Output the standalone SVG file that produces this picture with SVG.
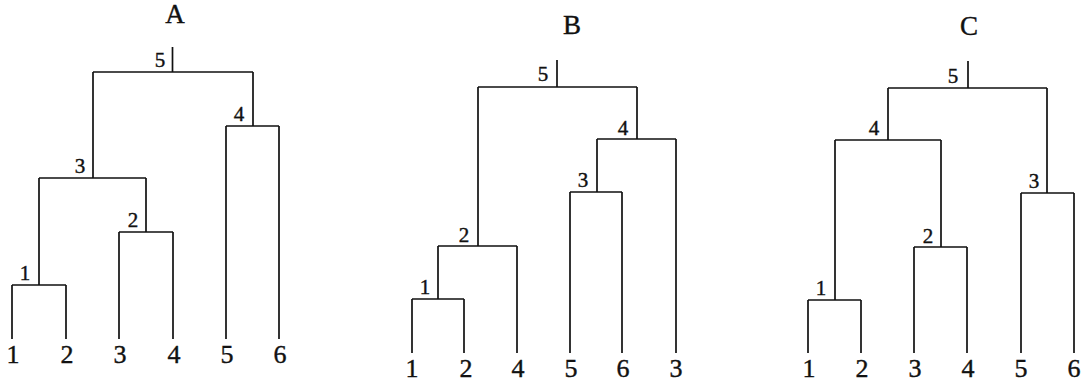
<svg xmlns="http://www.w3.org/2000/svg" width="1089" height="386" viewBox="0 0 1089 386">
<style>
.ln{fill:none;stroke:#111;stroke-width:1.7;stroke-linejoin:miter;stroke-linecap:butt}
text{font-family:"Liberation Serif","Times New Roman",serif;fill:#111;stroke:#111;stroke-width:0.4;text-anchor:middle}
.t{font-size:27px}
.m{font-size:21px}
.l{font-size:26px}
</style>
<rect width="1089" height="386" fill="#fff"/>

<!-- Panel A -->
<g id="panelA">
<g id="A-connectors">
<path class="ln" d="M172.5,47V72M93,72H253M93,72V178M253,72V126"/>
<path class="ln" d="M226,126H279M226,126V339M279,126V339"/>
<path class="ln" d="M39,178H146M39,178V285M146,178V232"/>
<path class="ln" d="M119,232H173M119,232V339M173,232V339"/>
<path class="ln" d="M12,285H66M12,285V339M66,285V339"/>
</g>
<g id="A-title"><text class="t" x="175" y="23">A</text></g>
<g id="A-m5"><text class="m" x="160" y="67">5</text></g>
<g id="A-m4"><text class="m" x="239" y="121">4</text></g>
<g id="A-m3"><text class="m" x="80" y="173">3</text></g>
<g id="A-m2"><text class="m" x="133" y="227">2</text></g>
<g id="A-m1"><text class="m" x="25" y="280">1</text></g>
<g id="A-leaf1"><text class="l" x="13" y="363">1</text></g>
<g id="A-leaf2"><text class="l" x="67" y="363">2</text></g>
<g id="A-leaf3"><text class="l" x="120" y="363">3</text></g>
<g id="A-leaf4"><text class="l" x="174" y="363">4</text></g>
<g id="A-leaf5"><text class="l" x="227" y="363">5</text></g>
<g id="A-leaf6"><text class="l" x="280" y="363">6</text></g>
</g>

<!-- Panel B -->
<g id="panelB">
<g id="B-connectors">
<path class="ln" d="M557,60V87M478,87H637M478,87V246M637,87V139"/>
<path class="ln" d="M597,139H676M597,139V192M676,139V353"/>
<path class="ln" d="M570,192H622M570,192V353M622,192V353"/>
<path class="ln" d="M438,246H517M438,246V299M517,246V353"/>
<path class="ln" d="M412,299H464M412,299V353M464,299V353"/>
</g>
<g id="B-title"><text class="t" x="572" y="34">B</text></g>
<g id="B-m5"><text class="m" x="543" y="81">5</text></g>
<g id="B-m4"><text class="m" x="623" y="135">4</text></g>
<g id="B-m3"><text class="m" x="583" y="187">3</text></g>
<g id="B-m2"><text class="m" x="464" y="242">2</text></g>
<g id="B-m1"><text class="m" x="425" y="294">1</text></g>
<g id="B-leaf1"><text class="l" x="412" y="377">1</text></g>
<g id="B-leaf2"><text class="l" x="466" y="377">2</text></g>
<g id="B-leaf4"><text class="l" x="518" y="377">4</text></g>
<g id="B-leaf5"><text class="l" x="571" y="377">5</text></g>
<g id="B-leaf6"><text class="l" x="623" y="377">6</text></g>
<g id="B-leaf3"><text class="l" x="676" y="377">3</text></g>
</g>

<!-- Panel C -->
<g id="panelC">
<g id="C-connectors">
<path class="ln" d="M968,61V88M888,88H1047M888,88V140M1047,88V193"/>
<path class="ln" d="M835,140H941M835,140V300M941,140V247"/>
<path class="ln" d="M1021,193H1074M1021,193V353M1074,193V353"/>
<path class="ln" d="M914,247H967M914,247V353M967,247V353"/>
<path class="ln" d="M808,300H861M808,300V353M861,300V353"/>
</g>
<g id="C-title"><text class="t" x="969" y="35">C</text></g>
<g id="C-m5"><text class="m" x="953" y="83">5</text></g>
<g id="C-m4"><text class="m" x="874" y="135">4</text></g>
<g id="C-m3"><text class="m" x="1034" y="188">3</text></g>
<g id="C-m2"><text class="m" x="928" y="243">2</text></g>
<g id="C-m1"><text class="m" x="821" y="295">1</text></g>
<g id="C-leaf1"><text class="l" x="809" y="377">1</text></g>
<g id="C-leaf2"><text class="l" x="862" y="377">2</text></g>
<g id="C-leaf3"><text class="l" x="915" y="377">3</text></g>
<g id="C-leaf4"><text class="l" x="968" y="377">4</text></g>
<g id="C-leaf5"><text class="l" x="1021" y="377">5</text></g>
<g id="C-leaf6"><text class="l" x="1074" y="377">6</text></g>
</g>
</svg>
